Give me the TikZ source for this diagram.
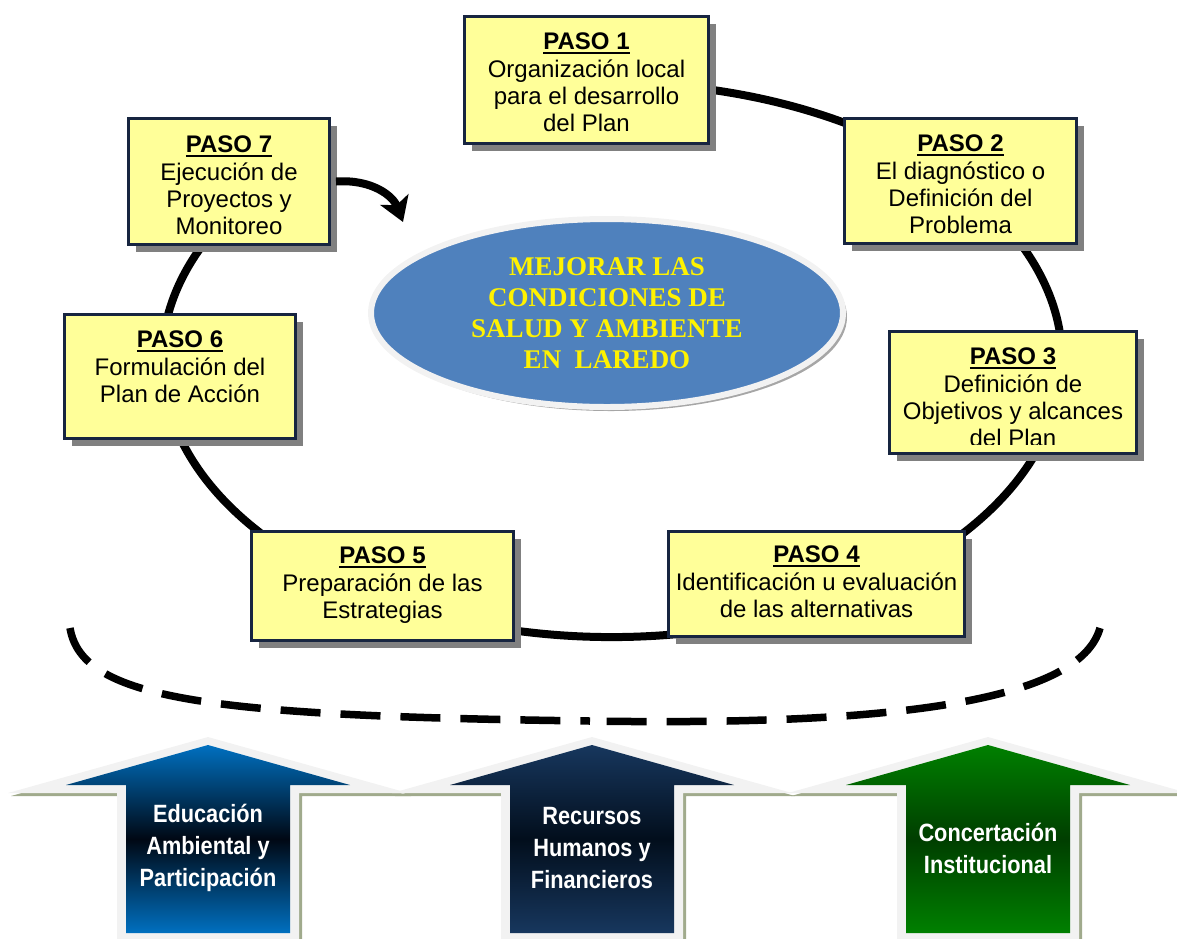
\documentclass[tikz,border=0pt]{standalone}
\usepackage{fontspec}
\setmainfont{Liberation Sans}
\newfontfamily\serifbold{Liberation Serif}
\newfontfamily\narrowfont{Liberation Sans}[FakeStretch=0.87]
\usetikzlibrary{shapes,arrows.meta,positioning,shadows}
\usepackage{xcolor}

\definecolor{pasoyellow}{RGB}{255,255,153}
\definecolor{pasoborder}{RGB}{23,37,64}
\definecolor{metablue}{RGB}{79,129,189}
\definecolor{rimgray}{RGB}{242,242,242}
\definecolor{olivegray}{RGB}{160,170,140}
\definecolor{edublue}{RGB}{0,112,192}
\definecolor{edudark}{RGB}{0,8,20}
\definecolor{recnavy}{RGB}{23,55,94}
\definecolor{recdark}{RGB}{2,14,28}
\definecolor{congreen}{RGB}{0,128,0}
\definecolor{condark}{RGB}{0,62,0}

\newcommand{\paso}[1]{\vtop{\hbox{\textbf{PASO #1}}\kern1.5pt\hrule height 2.5pt}}

\begin{document}
\begin{tikzpicture}[
  x=1pt, y=-1pt,
  pasobox/.style={rectangle, draw=pasoborder, line width=3pt, fill=pasoyellow, inner sep=0pt,
    drop shadow={shadow xshift=7pt, shadow yshift=-7pt, fill=black!50, opacity=1}},
  pasotext/.style={align=center, inner sep=0pt, font=\fontsize{24}{27.3}\selectfont},
  ring/.style={line width=8pt},
  bigarrow/.style={line width=8pt, -{Stealth[length=24pt, width=30pt, inset=6pt]}},
  dashcurve/.style={line width=7.5pt, dash pattern=on 40pt off 20pt},
  uptext/.style={align=center, inner sep=0pt, text=white, font=\narrowfont\bfseries\fontsize{25}{32}\selectfont}
]
  \useasboundingbox (0,0) rectangle (1177,938);

  \draw[ring] ([shift={(255:450 and 277)}]612,360) arc[start angle=255, end angle=575, x radius=450, y radius=277];

  \coordinate (dashL) at (70,628);
  \coordinate (dashM) at (590,721);
  \coordinate (dashR) at (1100,628);
  \draw[dashcurve] (dashL) .. controls (82,700) and (210,716) .. (dashM);
  \draw[dashcurve] (dashR) .. controls (1080,700) and (900,726) .. (dashM);

  \node[pasobox, minimum width=244, minimum height=127] (p1) at (586.5,80) {};
  \node[pasotext, below=18pt of p1.north] (t1) {\paso{1}\\Organización local\\para el desarrollo\\del Plan};

  \node[pasobox, minimum width=232, minimum height=125] (p2) at (960.5,181) {};
  \node[pasotext, below=18pt of p2.north] (t2) {\paso{2}\\El diagnóstico o\\Definición del\\Problema};

  \node[pasobox, minimum width=247, minimum height=122] (p3) at (1013,392.5) {};
  \begin{scope}
    \clip ([shift={(3,3)}]p3.north west) rectangle ([shift={(-3,-11)}]p3.south east);
    \node[pasotext, below=18pt of p3.north] (t3) {\paso{3}\\Definición de\\Objetivos y alcances\\del Plan};
  \end{scope}

  \node[pasobox, minimum width=296, minimum height=105] (p4) at (816.5,584) {};
  \node[pasotext, below=16pt of p4.north] (t4) {\paso{4}\\Identificación u evaluación\\de las alternativas};

  \node[pasobox, minimum width=262, minimum height=109] (p5) at (382.5,586) {};
  \node[pasotext, below=17pt of p5.north] (t5) {\paso{5}\\Preparación de las\\Estrategias};

  \node[pasobox, minimum width=231, minimum height=124] (p6) at (180,376.5) {};
  \node[pasotext, below=18pt of p6.north] (t6) {\paso{6}\\Formulación del\\Plan de Acción};

  \node[pasobox, minimum width=201, minimum height=126] (p7) at (229,181.5) {};
  \node[pasotext, below=19pt of p7.north] (t7) {\paso{7}\\Ejecución de\\Proyectos y\\Monitoreo};

  \node[ellipse, fill=metablue, draw=rimgray, line width=6pt, minimum width=472, minimum height=188,
    drop shadow={shadow xshift=4pt, shadow yshift=-4pt, fill=black!35, opacity=1},
    text=yellow, align=center, font=\serifbold\bfseries\fontsize{27}{31}\selectfont] (meta) at (607,313)
    {MEJORAR LAS\\CONDICIONES DE\\SALUD Y AMBIENTE\\EN \ LAREDO};

  \coordinate (arrowtip) at (403,222);
  \draw[bigarrow] ([xshift=5pt]p7.east) .. controls (372,179) and (393,196) .. (arrowtip);

  \foreach \cx/\ctop/\cdark/\nm/\txt in {
      208/edublue/edudark/educ/{Educación\\Ambiental y\\Participación},
      592/recnavy/recdark/recu/{Recursos\\Humanos y\\Financieros},
      988/congreen/condark/conc/{Concertación\\Institucional}} {
    \fill[olivegray, shift={(3,3)}] (\cx,737) -- ++(200,56) -- ++(-109,0) -- ++(0,160) -- ++(-182,0) -- ++(0,-160) -- ++(-109,0) -- cycle;
    \fill[rimgray] (\cx,737) -- ++(200,56) -- ++(-109,0) -- ++(0,160) -- ++(-182,0) -- ++(0,-160) -- ++(-109,0) -- cycle;
    \shade[top color=\ctop, bottom color=\ctop, middle color=\cdark] (\cx,745) -- ++(142,40) -- ++(-60,0) -- ++(0,148) -- ++(-164,0) -- ++(0,-148) -- ++(-60,0) -- cycle;
    \node[uptext] (\nm) at (\cx,848) {\txt};
  }
\end{tikzpicture}
\end{document}
